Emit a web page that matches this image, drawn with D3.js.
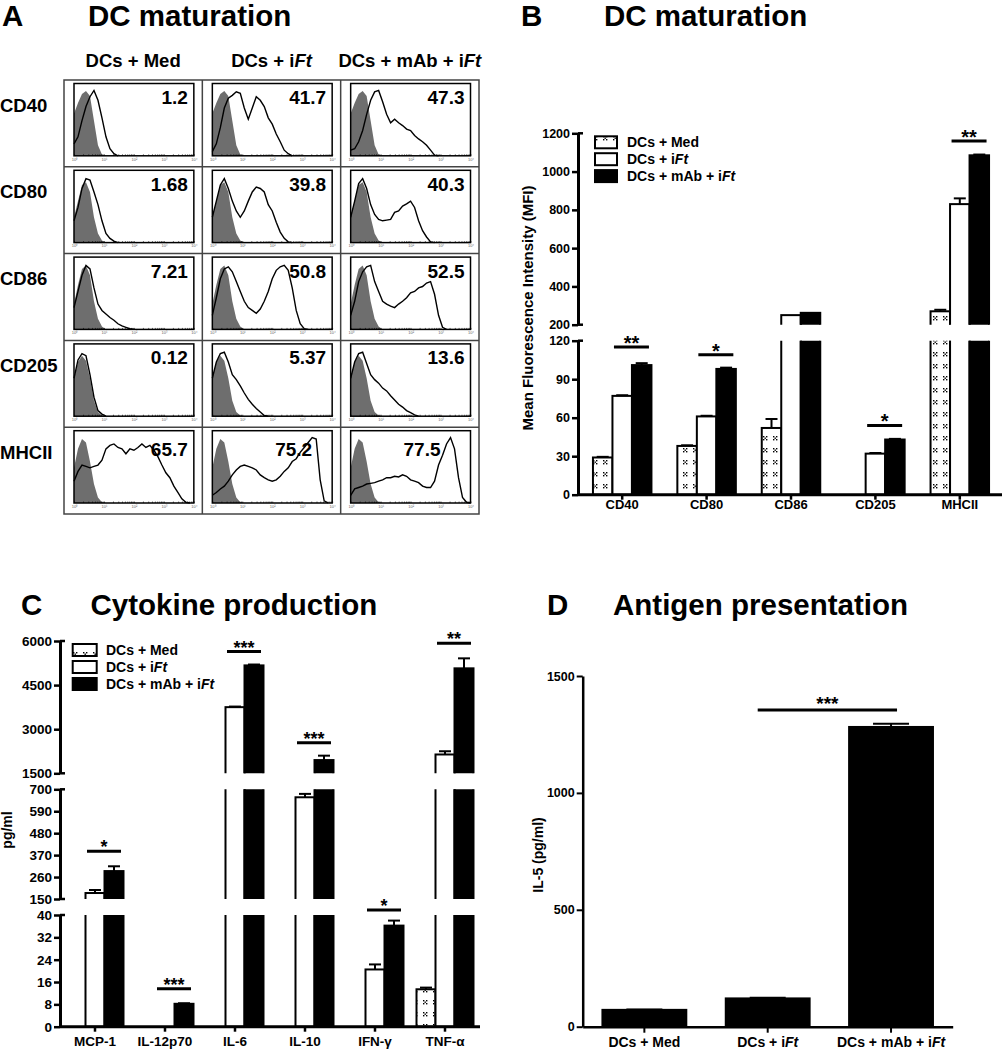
<!DOCTYPE html>
<html>
<head>
<meta charset="utf-8">
<script src="https://cdn.jsdelivr.net/npm/d3@7"></script>
<style>
body { margin: 0; background: #fff; }
svg text { font-family: "Liberation Sans", Arial, sans-serif; font-weight: bold; fill: #000; }
</style>
</head>
<body>
<script>
// ---------------- data ----------------
const seriesNames = ["DCs + Med", "DCs + iFt", "DCs + mAb + iFt"];

// A: flow histograms, 31 bins across 10^0..10^4 (percent of max), trailing bins are empty
const markersA = ["CD40", "CD80", "CD86", "CD205", "MHCII"];
const pctA = [
    ["1.2", "41.7", "47.3"],
    ["1.68", "39.8", "40.3"],
    ["7.21", "50.8", "52.5"],
    ["0.12", "5.37", "13.6"],
    ["65.7", "75.2", "77.5"]
];
const isotypeA = [
    [60, 75, 88, 92, 85, 50, 15, 2, 0],
    [36, 59, 82, 86, 72, 36, 13, 3, 0],
    [36, 63, 86, 91, 77, 40, 15, 4, 0],
    [54, 77, 86, 79, 54, 22, 6, 1, 0],
    [50, 77, 91, 86, 59, 27, 8, 1, 0]
];
const histMed = [
    [17, 27, 50, 70, 84, 93, 79, 54, 27, 10, 3, 0],
    [31, 50, 77, 91, 89, 72, 54, 31, 13, 6, 2, 0],
    [31, 54, 77, 91, 86, 59, 36, 27, 22, 17, 13, 8, 5, 3, 1, 0],
    [54, 80, 89, 86, 59, 27, 8, 3, 0],
    [31, 45, 54, 52, 50, 52, 54, 61, 77, 82, 84, 79, 77, 70, 77, 75, 79, 84, 79, 82, 75, 66, 54, 43, 36, 24, 15, 6, 1, 0]
];
const histIft = [
    [6, 17, 40, 68, 82, 86, 91, 89, 68, 52, 68, 84, 79, 70, 54, 45, 31, 20, 8, 3, 0],
    [36, 59, 82, 91, 77, 59, 45, 36, 45, 59, 72, 79, 77, 72, 54, 45, 29, 15, 6, 1, 0],
    [20, 45, 72, 86, 89, 82, 68, 54, 40, 31, 27, 23, 29, 40, 54, 72, 84, 89, 91, 84, 59, 27, 8, 1, 0],
    [54, 77, 89, 91, 77, 59, 52, 43, 33, 24, 17, 11, 6, 1, 0],
    [11, 15, 20, 24, 31, 40, 47, 52, 54, 52, 50, 47, 40, 36, 33, 31, 33, 38, 45, 50, 59, 63, 72, 79, 86, 93, 91, 33, 3, 0]
];
const histMab = [
    [8, 10, 20, 36, 59, 79, 91, 93, 77, 59, 47, 52, 47, 43, 38, 36, 29, 24, 20, 15, 8, 1, 0],
    [36, 59, 84, 91, 77, 54, 40, 33, 31, 32, 33, 43, 45, 52, 55, 59, 50, 31, 17, 8, 1, 0],
    [20, 40, 68, 82, 89, 91, 68, 54, 40, 36, 33, 31, 36, 40, 45, 52, 54, 59, 61, 66, 68, 50, 20, 3, 0],
    [54, 77, 89, 91, 75, 59, 52, 47, 40, 36, 29, 23, 17, 13, 8, 5, 2, 0],
    [11, 20, 22, 24, 27, 28, 29, 31, 33, 36, 36, 38, 37, 40, 38, 33, 31, 29, 24, 22, 22, 31, 54, 68, 84, 93, 77, 36, 8, 1, 0]
];

// B: MFI
const categoriesB = ["CD40", "CD80", "CD86", "CD205", "MHCII"];
const medB = [29, 38, 52, 0, 270];
const iftB = [77, 61, 250, 32, 830];
const mabB = [101, 98, 262, 43, 1085];
const medErrB = [0.5, 0.5, 7, 0, 8];
const iftErrB = [0.5, 0.5, 0, 0.5, 30];
const mabErrB = [1.5, 1, 0, 0.5, 4];
const ticksB = [[0, 30, 60, 90, 120], [200, 400, 600, 800, 1000, 1200]];
const sigB = [
    { cat: "CD40", value: 115, seg: 0, label: "**" },
    { cat: "CD80", value: 109, seg: 0, label: "*" },
    { cat: "CD205", value: 54, seg: 0, label: "*" },
    { cat: "MHCII", value: 1160, seg: 1, label: "**" }
];

// C: cytokines (pg/ml)
const categoriesC = ["MCP-1", "IL-12p70", "IL-6", "IL-10", "IFN-γ", "TNF-α"];
const medC = [null, null, null, null, null, 13.4];
const iftC = [180, null, 3750, 660, 20.5, 2140];
const mabC = [290, 8.2, 5170, 1950, 36.2, 5070];
const medErrC = [0, 0, 0, 0, 0, 0.6];
const iftErrC = [15, 0, 20, 17, 1.8, 110];
const mabErrC = [24, 0.2, 30, 150, 1.8, 340];
const ticksC = [[0, 8, 16, 24, 32, 40], [150, 260, 370, 480, 590, 700], [1500, 3000, 4500, 6000]];
const sigC = [
    { cat: "MCP-1", value: 390, seg: 1, label: "*" },
    { cat: "IL-12p70", value: 13.6, seg: 0, label: "***" },
    { cat: "IL-6", value: 5640, seg: 2, label: "***" },
    { cat: "IL-10", value: 2540, seg: 2, label: "***" },
    { cat: "IFN-γ", value: 41.8, seg: 0, label: "*" },
    { cat: "TNF-α", value: 5920, seg: 2, label: "**" }
];

// D: IL-5
const valuesD = [72, 121, 1282];
const errD = [2, 3, 14];
const ticksD = [0, 500, 1000, 1500];

// ---------------- drawing ----------------
const W = 1002, H = 1050;
const svg = d3.select("body").append("svg").attr("width", W).attr("height", H);
const defs = svg.append("defs");
const fmt = d3.format("d");

// dotted fill for the medium-only bars
const pat = defs.append("pattern").attr("id", "dots").attr("patternUnits", "userSpaceOnUse")
    .attr("width", 10).attr("height", 12);
pat.append("rect").attr("width", 10).attr("height", 12).attr("fill", "#fff");
[[3, 4], [6, 4], [4.5, 5.5], [3, 7], [6, 7]].forEach(p =>
    pat.append("rect").attr("x", p[0]).attr("y", p[1]).attr("width", 1.4).attr("height", 1.4).attr("fill", "#000"));
const fills = ["url(#dots)", "#fff", "#000"];

function ftText(sel, str) {
    sel.text(null);
    if (str.endsWith("iFt")) {
        sel.append("tspan").text(str.slice(0, -2));
        sel.append("tspan").attr("font-style", "italic").text("Ft");
    } else sel.text(str);
}

function title(xl, xt, y, letter, txt) {
    svg.append("text").attr("x", xl).attr("y", y).attr("font-size", 29.5).text(letter);
    svg.append("text").attr("x", xt).attr("y", y).attr("font-size", 29.5).text(txt);
}
title(2, 88, 26, "A", "DC maturation");
title(521, 604, 26, "B", "DC maturation");
title(21, 90.5, 615, "C", "Cytokine production");
title(547, 613, 615, "D", "Antigen presentation");

// ---------- A ----------
const gA = svg.append("g");
const colA = d3.scaleBand().domain(seriesNames).range([64, 479]);
const rowA = d3.scaleBand().domain(markersA).range([80, 514]);
const rowsInset5 = [6, 20, 30];

seriesNames.forEach(s => {
    ftText(gA.append("text").attr("x", colA(s) + colA.bandwidth() / 2).attr("y", 66.5)
        .attr("text-anchor", "middle").attr("font-size", 18.5), s);
});
markersA.forEach(m => {
    gA.append("text").attr("x", 0).attr("y", rowA(m) + 31.5).attr("font-size", 18.5).text(m);
});

const histSets = [histMed, histIft, histMab];
markersA.forEach((m, r) => {
    seriesNames.forEach((s, c) => {
        const x0 = colA(s), y0 = rowA(m);
        const L = x0 + 10, R = x0 + colA.bandwidth() - 8.5, T = y0 + 3.5, B = y0 + rowA.bandwidth() - 11;
        const hx = d3.scaleLinear().domain([0, 30]).range([L, R]);
        const hy = d3.scaleLinear().domain([0, 100]).range([B, T + 2]);
        const cell = gA.append("g");
        cell.append("path").datum(isotypeA[r])
            .attr("d", d3.area().x((d, i) => hx(i)).y0(B).y1(d => hy(d)))
            .attr("fill", "#6e6e6e");
        cell.append("path").datum(histSets[c][r])
            .attr("d", d3.line().x((d, i) => hx(i)).y(d => hy(d)))
            .attr("fill", "none").attr("stroke", "#000").attr("stroke-width", 1.4);
        cell.append("rect").attr("x", L).attr("y", T).attr("width", R - L).attr("height", B - T)
            .attr("fill", "none").attr("stroke", "#000").attr("stroke-width", 1.5);
        const lx = d3.scaleLog().domain([1, 1e4]).range([L, R]);
        const ax = cell.append("g").attr("transform", `translate(0,${B})`)
            .call(d3.axisBottom(lx).tickValues(lx.ticks()).tickSize(-1.5).tickPadding(2)
                .tickFormat(d => [1, 10, 100, 1000, 10000].includes(d) ? "10" + "⁰¹²³⁴"[Math.round(Math.log10(d))] : ""));
        ax.select(".domain").remove();
        ax.selectAll(".tick line").attr("stroke-width", 0.6);
        ax.selectAll("text").attr("font-size", 4).style("fill", "#666").style("font-weight", "normal");
        const inset = r === 4 ? rowsInset5[c] : 6;
        cell.append("text").attr("x", R - inset).attr("y", y0 + (r === 4 ? 29 : 24))
            .attr("text-anchor", "end").attr("font-size", 19).text(pctA[r][c]);
    });
});
gA.append("rect").attr("x", 64).attr("y", 80).attr("width", 415).attr("height", 434)
    .attr("fill", "none").attr("stroke", "#444").attr("stroke-width", 1.5);
seriesNames.slice(1).forEach(s => gA.append("line").attr("x1", colA(s)).attr("x2", colA(s))
    .attr("y1", 80).attr("y2", 514).attr("stroke", "#444").attr("stroke-width", 1.5));
markersA.slice(1).forEach(m => gA.append("line").attr("x1", 64).attr("x2", 479)
    .attr("y1", rowA(m)).attr("y2", rowA(m)).attr("stroke", "#444").attr("stroke-width", 1.5));

// ---------- broken-axis bar charts (B, C) ----------
function brokenBars(o) {
    const g = svg.append("g");
    const x = d3.scaleBand().domain(o.cats).range(o.xRange);
    const xs = d3.scaleBand().domain(seriesNames).range([-o.group / 2, o.group / 2]);
    const ys = o.segs.map(s => d3.scaleLinear().domain(s.domain).range(s.range));
    const base = o.segs[0].range[0];
    const cx = c => x(c) + x.bandwidth() / 2;
    const rows = [];
    o.series.forEach((vals, j) => o.cats.forEach((c, i) => {
        if (vals[i] != null && vals[i] > 0)
            rows.push({ c: c, s: seriesNames[j], v: vals[i], e: o.errs[j][i], fill: fills[j] });
    }));

    o.segs.forEach((s, k) => {
        const id = o.id + "-seg" + k;
        defs.append("clipPath").attr("id", id).append("rect")
            .attr("x", 0).attr("width", W).attr("y", s.range[1]).attr("height", s.range[0] - s.range[1]);
        const topY = d => d.v >= s.domain[1] ? s.range[1] - 6 : ys[k](d.v);
        const botY = k === 0 ? base : s.range[0] + 6;
        g.append("g").attr("clip-path", `url(#${id})`)
            .selectAll("rect").data(rows.filter(d => d.v > s.domain[0])).join("rect")
            .attr("x", d => cx(d.c) + xs(d.s)).attr("width", xs.bandwidth())
            .attr("y", topY).attr("height", d => botY - topY(d))
            .attr("fill", d => d.fill).attr("stroke", "#000").attr("stroke-width", 2);
    });

    // error bars
    const segOf = v => o.segs.findIndex(s => v > s.domain[0] && v <= s.domain[1]);
    rows.filter(d => d.e > 0).forEach(d => {
        const k = segOf(d.v);
        if (k < 0) return;
        const xm = cx(d.c) + xs(d.s) + xs.bandwidth() / 2;
        const y1 = ys[k](d.v), y2 = ys[k](d.v + d.e);
        g.append("line").attr("x1", xm).attr("x2", xm).attr("y1", y1).attr("y2", y2)
            .attr("stroke", "#000").attr("stroke-width", 2);
        g.append("line").attr("x1", xm - 6).attr("x2", xm + 6).attr("y1", y2).attr("y2", y2)
            .attr("stroke", "#000").attr("stroke-width", 2);
    });

    // significance bars
    o.sig.forEach(d => {
        const y = ys[d.seg](d.value);
        const x1 = cx(d.cat) + xs(seriesNames[1]) + 1.5;
        const x2 = cx(d.cat) + xs(seriesNames[2]) + xs.bandwidth() - 2.5;
        g.append("line").attr("x1", x1).attr("x2", x2).attr("y1", y).attr("y2", y)
            .attr("stroke", "#000").attr("stroke-width", 3);
        g.append("text").attr("x", (x1 + x2) / 2).attr("y", y + o.starDy).attr("text-anchor", "middle")
            .attr("font-size", o.starSize).text(d.label);
    });

    // y axis segments
    o.segs.forEach((s, k) => {
        const ax = g.append("g").attr("transform", `translate(${o.axisX},0)`)
            .call(d3.axisLeft(ys[k]).tickValues(s.ticks).tickFormat(fmt).tickSize(6).tickPadding(2).tickSizeOuter(0))
            .attr("font-size", o.tickSize);
        ax.select(".domain").attr("stroke-width", 3);
        ax.selectAll(".tick line").attr("stroke-width", 2.5);
        const ends = k === 0 ? [s.range[1]] : s.range;
        ends.forEach(yy => ax.append("line").attr("x1", 0).attr("x2", 5).attr("y1", yy).attr("y2", yy)
            .attr("stroke", "#000").attr("stroke-width", 2.5));
    });
    const xa = g.append("g").attr("transform", `translate(0,${base})`)
        .call(d3.axisBottom(x).tickSize(5).tickPadding(o.xPad).tickSizeOuter(0))
        .attr("font-size", o.xFont);
    xa.select(".domain").attr("d", `M${o.axisX},0H${o.xRange[1]}`).attr("stroke-width", 3);
    xa.selectAll(".tick line").attr("stroke-width", 2.5);

    // legend
    if (o.legend) {
        const lg = g.append("g");
        seriesNames.forEach((s, j) => {
            const cy = o.legend.y + j * o.legend.dy;
            lg.append("rect").attr("x", o.legend.x).attr("y", cy - 6).attr("width", o.legend.w).attr("height", 12)
                .attr("fill", fills[j]).attr("stroke", "#000").attr("stroke-width", 2);
            ftText(lg.append("text").attr("x", o.legend.tx).attr("y", cy + 5).attr("font-size", 14), s);
        });
    }

    // y title
    svg.append("text").attr("transform", `translate(${o.yTitle.x},${o.yTitle.y}) rotate(-90)`)
        .attr("text-anchor", "middle").attr("font-size", o.yTitle.size).text(o.yTitle.text);
}

brokenBars({
    id: "B", cats: categoriesB, xRange: [580, 1002], axisX: 578, group: 58.5,
    series: [medB, iftB, mabB], errs: [medErrB, iftErrB, mabErrB],
    segs: [
        { domain: [0, 120], range: [494.7, 340.7], ticks: ticksB[0] },
        { domain: [200, 1200], range: [324.7, 133.3], ticks: ticksB[1] }
    ],
    sig: sigB, starDy: 3, starSize: 20, tickSize: 12.5, xFont: 13, xPad: 0,
    legend: { x: 595, w: 22, y: 142.3, dy: 16.9, tx: 627 },
    yTitle: { x: 533, y: 308, size: 15, text: "Mean Fluorescence Intensity (MFI)" }
});

brokenBars({
    id: "C", cats: categoriesC, xRange: [60, 480], axisX: 60, group: 57,
    series: [medC, iftC, mabC], errs: [medErrC, iftErrC, mabErrC],
    segs: [
        { domain: [0, 40], range: [1026.7, 915], ticks: ticksC[0] },
        { domain: [150, 700], range: [899, 789.3], ticks: ticksC[1] },
        { domain: [1500, 6000], range: [773.3, 641], ticks: ticksC[2] }
    ],
    sig: sigC, starDy: 2, starSize: 18, tickSize: 13.5, xFont: 13.5, xPad: 4.5,
    legend: { x: 72.7, w: 24, y: 650, dy: 17, tx: 106 },
    yTitle: { x: 12, y: 830, size: 14, text: "pg/ml" }
});

// ---------- D ----------
const gD = svg.append("g");
const xD = d3.scaleBand().domain(seriesNames).range([582.7, 952.7]).paddingInner(0.32).paddingOuter(0.16);
const yD = d3.scaleLinear().domain([0, 1500]).range([1026.7, 676]);
gD.selectAll("rect").data(valuesD).join("rect")
    .attr("x", (d, i) => xD(seriesNames[i])).attr("width", xD.bandwidth())
    .attr("y", d => yD(d)).attr("height", d => yD(0) - yD(d))
    .attr("fill", "#000").attr("stroke", "#000").attr("stroke-width", 2);
valuesD.forEach((v, i) => {
    const xm = xD(seriesNames[i]) + xD.bandwidth() / 2;
    gD.append("line").attr("x1", xm).attr("x2", xm).attr("y1", yD(v)).attr("y2", yD(v + errD[i]))
        .attr("stroke", "#000").attr("stroke-width", 2);
    gD.append("line").attr("x1", xm - 18).attr("x2", xm + 18).attr("y1", yD(v + errD[i])).attr("y2", yD(v + errD[i]))
        .attr("stroke", "#000").attr("stroke-width", 2);
});
{
    const y = yD(1355);
    const x1 = xD(seriesNames[1]) + xD.bandwidth() / 2 - 10, x2 = xD(seriesNames[2]) + xD.bandwidth() / 2 + 6;
    gD.append("line").attr("x1", x1).attr("x2", x2).attr("y1", y).attr("y2", y).attr("stroke", "#000").attr("stroke-width", 3);
    gD.append("text").attr("x", (x1 + x2) / 2).attr("y", y).attr("text-anchor", "middle").attr("font-size", 19).text("***");
}
const ayD = gD.append("g").attr("transform", "translate(582.7,0)")
    .call(d3.axisLeft(yD).tickValues(ticksD).tickFormat(fmt).tickSize(6).tickPadding(2).tickSizeOuter(0)).attr("font-size", 12.5);
ayD.select(".domain").attr("stroke-width", 2.5);
ayD.selectAll(".tick line").attr("stroke-width", 2);
const axD = gD.append("g").attr("transform", `translate(0,${yD(0)})`)
    .call(d3.axisBottom(xD).tickSize(6).tickPadding(4).tickSizeOuter(0)).attr("font-size", 14);
axD.select(".domain").attr("stroke-width", 2.5);
axD.selectAll(".tick line").attr("stroke-width", 2);
axD.selectAll(".tick text").each(function (d) { ftText(d3.select(this), d); });
svg.append("text").attr("transform", "translate(543,855) rotate(-90)")
    .attr("text-anchor", "middle").attr("font-size", 14).text("IL-5 (pg/ml)");
</script>
</body>
</html>
